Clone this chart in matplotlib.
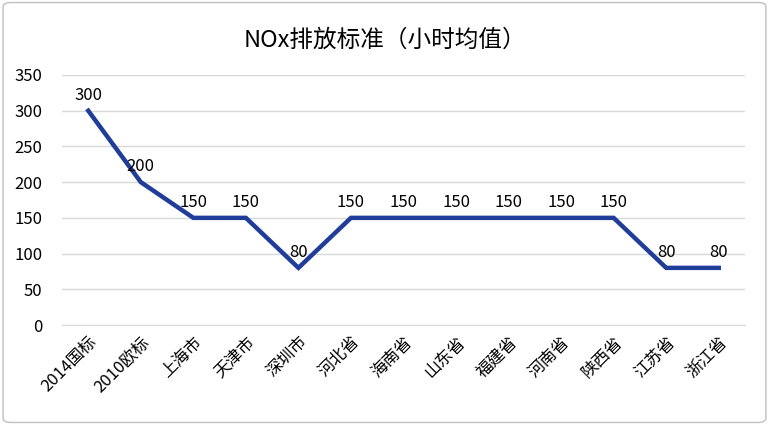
import matplotlib.pyplot as plt
from matplotlib.patches import FancyBboxPatch

plt.rcParams['font.family'] = ['Noto Sans CJK SC', 'DejaVu Sans']

categories = ['2014国标', '2010欧标', '上海市', '天津市', '深圳市', '河北省', '海南省',
              '山东省', '福建省', '河南省', '陕西省', '江苏省', '浙江省']
values = [300, 200, 150, 150, 80, 150, 150, 150, 150, 150, 150, 80, 80]
yticks = [0, 50, 100, 150, 200, 250, 300, 350]

fig = plt.figure(figsize=(7.69, 4.25), dpi=100)
ax = fig.add_axes([62 / 769, 1 - 325 / 425, 683 / 769, 250 / 425])

x = list(range(len(categories)))
ax.plot(x, values, color='#1F3D99', linewidth=3.2, solid_joinstyle='miter')
for xi, v in zip(x, values):
    ax.text(xi, v + 10, str(v), ha='center', va='bottom', fontsize=12)

ax.set_xlim(-0.5, len(categories) - 0.5)
ax.set_ylim(0, 350)
ax.set_yticks(yticks)
ax.set_xticks(x)
ax.set_xticklabels(categories, rotation=45, ha='right', rotation_mode='anchor', fontsize=12)
ax.tick_params(axis='y', labelsize=12, length=0, pad=14)
ax.tick_params(axis='x', length=0, pad=6)
ax.grid(axis='y', color='#D9D9D9', linewidth=1)
ax.set_axisbelow(True)
for s in ['top', 'right', 'left']:
    ax.spines[s].set_visible(False)
ax.spines['bottom'].set_color('#D9D9D9')

fig.text(0.5, 1 - 40 / 425, 'NOx排放标准（小时均值）', ha='center', va='center', fontsize=17)

border = FancyBboxPatch((0.004, 0.006), 0.992, 0.988, boxstyle='round,pad=0,rounding_size=0.01',
                        transform=fig.transFigure, fill=False, edgecolor='#BFBFBF', linewidth=1)
fig.patches.append(border)

fig.savefig('out.png', dpi=100)
